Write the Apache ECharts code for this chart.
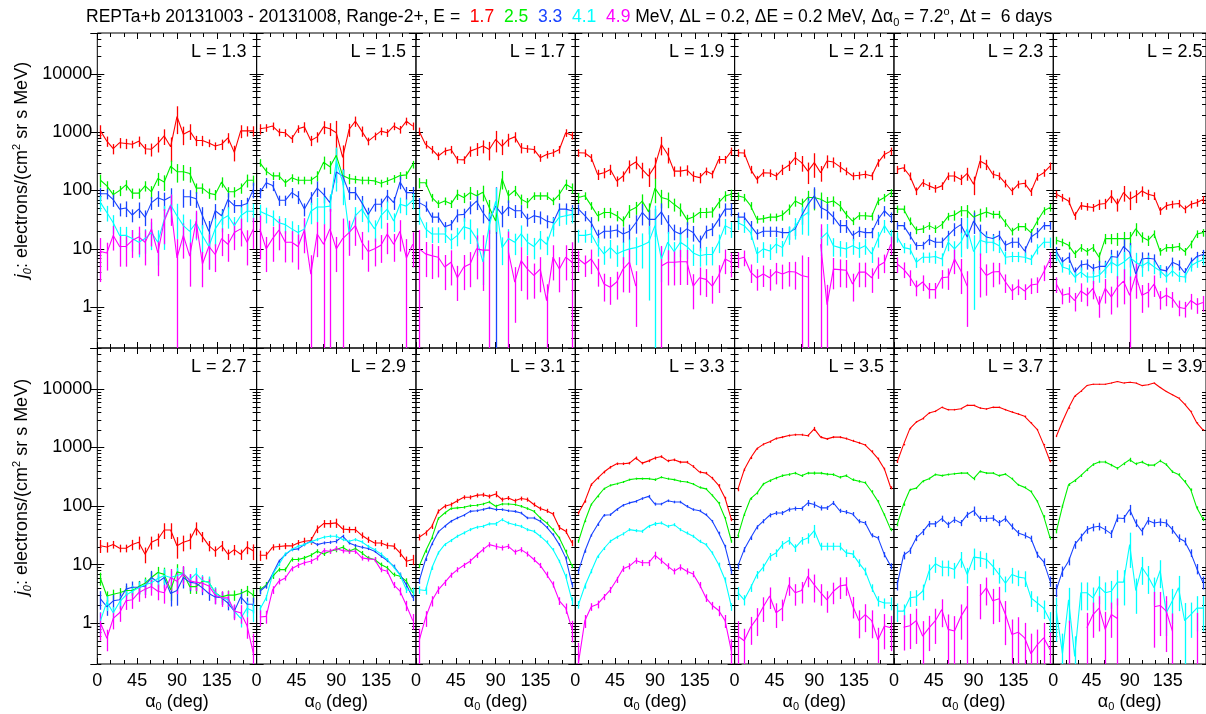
<!DOCTYPE html>
<html><head><meta charset="utf-8">
<script src="https://cdn.jsdelivr.net/npm/echarts@6/dist/echarts.min.js"></script>
<style>html,body{margin:0;padding:0;background:#fff}#c{width:1206px;height:714px}</style>
</head><body><div id="c"></div><script>
const ENERGIES = ['1.7', '2.5', '3.3', '4.1', '4.9'];
const COLORS = ['#ff0000', '#00f000', '#1a44ff', '#00ffff', '#ff00ff'];
const ALPHA = [3.6, 10.8, 18.0, 25.2, 32.4, 39.6, 46.8, 54.0, 61.2, 68.4, 75.6, 82.8, 90.0, 97.2, 104.4, 111.6, 118.8, 126.0, 133.2, 140.4, 147.6, 154.8, 162.0, 169.2, 176.4];
const X_TICK_LABELS = [0, 45, 90, 135];
const Y_TICK_LABELS = [1, 10, 100, 1000, 10000];

// flux per L shell: rows = energies 1.7, 2.5, 3.3, 4.1, 4.9 MeV
const flux_L1_3 = [
 [1050,700,520,660,640,620,700,520,510,640,860,560,1850,920,1050,720,720,650,580,620,800,450,1050,1050,1050],
 [150,120,85,100,125,90,90,120,95,160,140,260,210,210,195,110,110,90,85,140,95,95,110,150,150],
 [88,88,70,48,50,38,48,35,62,75,68,78,null,78,78,72,37,20,45,37,70,55,55,60,105],
 [62,42,28,17,17,15,13,15,19,13,32,57,37,25,20,28,17,11,22,32,37,25,37,44,44],
 [9,8.5,17,11,11,14,16,13,22,8.5,30,55,7,17,7.5,30,5.5,11,8,15,12,19,22,13,22]];
const err_L1_3 = [
 [25,20,20,20,20,15,20,20,25,30,30,45,50,35,30,20,20,15,15,20,20,30,25,20,20],
 [25,20,20,20,20,20,20,20,25,25,30,25,35,30,30,20,20,20,20,20,20,20,20,25,20],
 [25,20,25,25,30,25,30,30,25,30,35,40,0,35,30,30,40,50,30,30,30,25,25,25,30],
 [30,30,35,40,40,40,45,45,50,60,70,50,60,55,60,50,50,60,50,40,40,40,40,35,35],
 [70,50,45,55,55,50,50,60,50,60,60,55,110,60,70,50,60,60,50,50,50,50,50,60,55]];

const flux_L1_5 = [
 [1140,1190,1270,1000,975,770,1140,1230,720,830,1230,1140,975,370,1110,1540,1040,700,855,1040,975,1270,1110,1540,1270],
 [300,215,178,178,136,165,150,150,150,178,305,255,400,180,160,155,150,150,146,133,146,160,180,185,280],
 [92,136,122,68,68,92,78,48,75,110,86,62,207,178,92,92,62,39,58,58,82,62,140,92,92],
 [44,39,35,28,26,22,19,22,44,52,52,54,320,140,19,37,48,32,22,37,48,30,58,54,68],
 [22,10,15,21,13,13,11,21,3.7,18,12,22,10,15,19,25,13,9,10,11.5,18,12,20,7,12]];
const err_L1_5 = [
 [20,15,15,15,15,15,15,20,20,20,25,25,60,60,25,20,20,15,15,15,15,15,15,15,15],
 [15,15,15,15,15,15,15,15,15,20,25,25,30,25,20,15,15,15,15,15,15,15,15,15,15],
 [20,20,20,20,20,20,25,25,25,30,30,30,35,30,25,25,30,30,25,25,25,25,25,25,25],
 [30,30,30,30,30,35,35,40,40,45,50,60,70,60,50,40,40,40,40,40,35,35,30,30,30],
 [70,60,60,55,55,55,60,60,110,60,120,120,60,120,60,55,50,55,50,50,55,50,55,110,60]];

const flux_L1_7 = [
 [1040,616,505,390,473,505,340,335,473,520,577,505,750,577,750,830,540,520,505,365,415,444,505,975,880],
 [136,136,76,59,66,59,86,76,92,81,93,51,30,160,81,100,71,62,81,81,81,66,86,128,110],
 [62,54,35,35,24,26,38,39,52,66,42,30,54,39,52,45,45,32,37,35,30,28,48,48,45],
 [37,22,18,18,18,14,17,24,22,15,6,25,65,10.5,15,13,18,13,11,15,12,25,35,37,39],
 [10,8.2,7.6,7.2,4.9,5.9,3.2,4.9,5.5,10,9.5,9.5,null,null,9,2.7,6.3,4.5,3.5,4.5,1.3,7.2,4.5,7.2,5.9]];
const err_L1_7 = [
 [15,15,15,15,15,15,15,15,20,25,25,35,40,30,25,20,20,15,15,15,15,15,15,15,15],
 [20,15,15,15,15,15,20,20,25,25,30,35,40,35,25,20,20,20,15,15,15,15,20,20,20],
 [20,20,20,20,20,20,25,25,25,30,35,40,110,40,30,25,25,25,25,25,25,25,25,25,25],
 [30,30,30,30,30,30,35,40,45,50,60,60,70,50,45,40,40,40,40,35,35,35,30,30,30],
 [110,60,60,55,60,60,60,60,60,70,80,120,0,0,120,80,70,70,60,60,90,60,60,60,120]];

const flux_L1_9 = [
 [443,440,365,189,202,230,145,177,262,307,230,177,262,616,415,215,215,225,177,166,215,190,340,340,473],
 [76,81,55,37,42,42,37,30,45,51,66,43,110,76,71,58,48,32,35,42,42,43,62,81,86],
 [48,37,28,17,20,20,21,18,20,28,42,32,32,43,28,20,18,22,19,13,20,22,32,48,48],
 [17,17,18,11.3,8.2,10.5,8.2,9.2,10,10.5,11.5,13,25,6.7,13,9,13,11,8.5,7.6,8,8,13,25,22],
 [6.7,5.5,6.7,4.5,2.5,2.2,2.7,4.5,5.9,2.3,null,null,null,5.1,5.9,5.9,6,6,2.3,3.2,3,2.3,3.5,6.7,5.9]];
const err_L1_9 = [
 [15,15,15,20,20,20,20,20,25,25,30,35,40,35,30,20,20,20,20,20,15,15,15,15,15],
 [20,15,15,20,20,20,20,20,25,25,30,40,45,35,30,25,25,20,20,20,20,20,20,20,20],
 [20,20,25,25,25,25,25,30,30,35,40,45,50,40,35,30,30,30,30,30,25,25,25,25,25],
 [25,25,30,35,35,35,40,40,45,50,60,90,120,60,50,45,45,40,40,35,35,35,35,30,30],
 [40,40,45,50,50,50,50,60,70,80,0,0,0,120,60,60,60,60,60,50,50,50,50,45,45]];

const flux_L2_1 = [
 [443,440,230,155,202,200,177,230,270,365,300,215,300,202,320,307,256,215,177,182,190,177,300,415,473],
 [81,76,55,32,33,35,35,38,48,66,58,76,76,71,62,66,55,39,30,37,37,36,66,76,92],
 [35,35,25,18,20,20,20,19,19,22,37,58,81,51,45,35,25,25,17,20,19,19,32,45,35],
 [28,25,19,8.2,10,9.2,12,10.5,18,24,35,42,null,15,19,11.3,10.5,10,11.3,10,11.3,8.2,15,25,17],
 [6.7,7.2,4,3.2,3.7,3.2,4.1,3.7,4.1,4,3.5,3.3,null,12,1.1,4.5,4.4,4.3,2.5,4,4,3.2,5.1,5.9,12]];
const err_L2_1 = [
 [15,15,15,15,15,15,15,20,20,25,30,40,45,30,25,20,20,15,15,15,15,15,15,15,15],
 [15,15,15,15,15,15,15,20,20,20,25,30,40,30,25,20,20,15,15,15,15,15,15,15,15],
 [20,20,20,20,20,20,20,20,25,25,30,35,40,35,30,25,25,25,20,20,20,20,20,20,20],
 [25,25,25,30,30,30,30,30,35,40,50,60,0,50,40,35,30,30,30,30,30,30,30,25,25],
 [30,30,35,40,40,40,40,45,45,50,120,120,0,120,120,55,50,50,50,45,45,45,40,35,35]];

const flux_L2_3 = [
 [230,245,177,98,136,120,108,120,177,177,155,196,128,320,280,190,177,133,98,128,133,95,173,202,262],
 [48,48,30,21,22,25,22,26,36,38,45,45,35,39,43,39,39,28,20,24,24,19,30,45,51],
 [25,25,17,11.3,11.5,14.5,13,13,17,22,26,16,30,20,16,15,17,11.5,13,13,9.2,16,19,25,25],
 [16,10.5,10,5.9,7.2,7.2,7.4,6.7,13,10,13,22,9,14,13,13,11.3,7.2,7.4,7.4,7.2,6.6,10,13,13],
 [5.5,4.5,3.3,2.2,2.7,2.0,2.0,3.2,3.3,6.7,4.2,2.3,null,4.9,3.5,4,4.1,2.7,1.9,2.3,1.9,2.4,2.5,4,6.7]];
const err_L2_3 = [
 [15,15,15,15,15,15,15,15,15,20,20,25,35,25,20,15,15,15,15,15,15,15,15,15,15],
 [15,15,15,15,15,15,15,15,15,20,20,25,30,25,20,15,15,15,15,15,15,15,15,15,15],
 [15,15,15,15,15,20,20,20,20,25,30,35,40,30,25,20,20,20,20,20,20,20,20,15,15],
 [20,20,20,20,20,20,25,25,30,35,45,55,90,45,35,30,25,25,20,20,20,20,20,20,20],
 [30,30,30,30,30,30,30,35,40,45,60,80,0,70,55,45,40,35,30,30,30,30,30,30,30]];

const flux_L2_5 = [
 [86,76,66,37,55,53,51,58,60,81,58,92,71,81,98,86,81,45,55,58,60,48,58,62,70],
 [14,13,11.5,8.2,10.5,9,10.5,7.2,15,15,15,15,15,22,16,14,18,9,10.5,10.5,11,9,12,18,19],
 [9,6,7.2,4,5.3,5.5,4.6,5,5,7.4,7.2,11,8.7,3.7,6.7,6.9,6.7,4.4,4.2,5.9,5.3,3.9,5.9,7.4,8],
 [7.6,4.9,4.5,3.3,4,3.3,3.3,3.5,4.5,5.9,5.1,5.9,7.2,5.9,5.1,5.9,4.9,4.2,3.3,4.2,3.4,3.3,5.1,5.9,6.5],
 [2.5,1.6,1.7,1.3,1.9,1.6,2.1,1.1,2.1,1.5,2.2,2.8,1.6,3.5,1.6,1.8,2.5,1.4,1.6,1.4,1.0,0.95,1.3,1.1,1.2]];
const err_L2_5 = [
 [15,15,15,15,15,15,15,20,20,25,25,30,35,25,20,20,15,15,15,15,15,15,15,15,15],
 [15,15,15,15,15,15,15,20,20,20,25,30,30,25,20,20,15,15,15,15,15,15,15,15,15],
 [20,20,20,20,20,20,20,25,25,30,30,40,45,35,30,25,20,20,20,20,20,20,20,20,20],
 [20,20,20,20,20,20,25,25,30,35,40,50,60,45,35,30,25,25,20,20,20,20,20,20,20],
 [30,30,30,35,35,35,35,40,45,50,55,60,110,60,50,45,40,35,35,30,30,30,30,30,30]];

const flux_L2_7 = [
 [21,20,22,19,19,22,24,15,24,27,39,39,21,24,26,42,30,21,17,21,15,18,15,20,17],
 [5.8,2.9,3.1,3.3,3.6,3.6,4.2,4.8,6,7.3,6.8,3.7,7.5,7,4.2,4.2,5.2,5,3.3,2.8,3,3,3.2,3.6,3],
 [2.6,1.9,2.4,2.5,3.8,4.1,4.1,4.3,6,5,6,3.2,3.6,6,5,4.8,4,3.2,2.8,2.7,2.2,1.6,2.8,2.1,2.1],
 [1.1,2.3,1.5,2.3,3,3.5,4,4.5,4.9,5.8,6.5,6,6.5,7,5.5,7,5.3,5,3.3,2.7,2.5,1.6,1.2,1.8,1.6],
 [1.0,0.55,1.2,1.5,2.4,2.5,3.3,3.8,4.2,3.5,3.3,6,5.2,7,5.3,5.0,4.8,4.3,3,2.7,2.7,1.6,1.5,0.9,0.3]];
const err_L2_7 = [
 [25,20,15,15,15,20,25,30,25,25,30,30,40,30,30,25,20,20,20,20,20,20,20,25,30],
 [25,20,20,20,20,20,25,25,25,25,30,35,35,30,25,25,20,20,20,20,20,20,20,20,25],
 [35,30,30,30,25,25,25,30,30,30,35,40,45,35,30,25,25,25,25,25,25,25,25,30,30],
 [40,30,25,25,25,25,25,25,25,30,30,30,35,30,25,25,25,25,25,25,25,25,30,30,35],
 [50,40,35,30,30,30,30,30,30,30,35,40,40,35,30,30,30,30,30,30,30,30,35,40,120]];

const flux_L2_9 = [
 [14.4,14.4,19.8,20.3,20.8,20.8,23.4,25,25.7,40.5,50,50,51.5,40.5,39.5,39.5,31.6,26.7,23.4,23.4,21.1,20.6,15.8,11.4,12.2],
 [3.7,4.5,6.3,8.2,8.2,12.2,12.2,13,14.4,16.9,15.2,16.9,18,19.8,16.9,18.8,15.8,13,12.2,10,8.8,6.75,6.3,5.2,3.3],
 [3.5,4.3,6.9,11.4,14.8,18,18.5,21.9,25,21.9,23.4,24,25,30.5,23.4,21.1,19.8,18.8,16.9,13.9,11.7,9.4,6.75,4.5,2.7],
 [1.7,2.7,6.75,10,15.2,18,20.5,21.9,24.4,26.7,29.3,30.5,30.5,26.7,25,26.7,24.4,20.5,18,15.2,12.2,9,6.6,3.7,3.5],
 [1.27,1.3,3.7,5.2,5.9,8.5,9.7,10.7,11.4,13,17.3,16.9,18.8,17.3,16.9,16.9,13,12.5,12.2,8.2,7.7,4.5,3.5,2.0,1.1]];
const err_L2_9 = [
 [20,15,12,12,12,12,12,15,15,15,15,15,18,15,12,12,12,12,12,12,12,12,15,20,20],
 [15,12,10,8,8,8,8,8,8,8,8,8,10,8,8,8,8,8,8,8,8,8,10,12,15],
 [12,10,8,6,6,6,6,6,6,6,6,6,8,6,6,6,6,6,6,6,6,6,8,10,12],
 [20,12,8,6,6,6,6,6,6,6,6,6,8,6,6,6,6,6,6,6,6,6,8,12,15],
 [30,25,15,12,10,10,10,10,10,10,10,10,10,10,10,10,10,10,10,10,10,12,15,20,30]];

const flux_L3_1 = [
 [29.3,34.7,45,81,99,106,123,141,141,152,156,146,160,129,137,123,134,129,106,90.5,83,73,43,37,23.4],
 [9.4,16.9,28.5,61,76,90.5,93,95,101,103,108,117,99,108,108,106,99,90.5,81,62.5,51.4,39.5,28.5,16.9,9.4],
 [5.2,12.2,22.5,36.1,45,55,62.5,69.5,81,83,87,93,87,87,83,81,76,62.5,62.5,55,43.4,32.5,21.9,13,4.5],
 [3.7,3.6,8.8,15.8,21.9,25.7,30.5,34.7,39.5,43.4,45,49.5,49.5,58.5,51.4,48,45,39.5,37,30.5,24.4,18,11.4,6.3,2.4],
 [0.5,1.23,2.4,3.7,4.9,6.6,8.2,9.7,11.4,14.4,18,21.9,20.5,19.3,20.5,16.4,18,15.2,12.2,9.7,6.75,4.6,2.4,1.8,0.78]];
const err_L3_1 = [
 [12,10,10,8,8,8,8,8,8,8,8,8,12,8,8,8,8,8,8,8,8,8,10,10,12],
 [8,6,5,5,5,5,5,5,5,5,5,5,6,5,5,5,5,5,5,5,5,5,5,6,8],
 [10,6,5,5,5,5,5,5,5,5,5,5,6,5,5,5,5,5,5,5,5,5,5,6,10],
 [15,15,8,6,6,6,6,6,6,6,6,6,8,6,6,6,6,6,6,6,6,6,6,10,15],
 [60,30,20,15,12,10,10,10,10,10,10,10,12,10,10,10,10,10,10,10,12,12,15,20,40]];

const flux_L3_3 = [
 [76,120,231,300,380,460,527,527,540,660,540,590,660,700,590,615,562,562,475,380,365,300,225,137,58.5],
 [25,55,106,146,197,225,240,257,282,293,293,293,282,310,293,282,264,257,237,208,196,152,113,62.5,25],
 [7.7,16.9,31.6,48,69.5,71,87,103,113,120,134,146,108,108,123,117,117,99,87,83,71,55,34.7,20.5,7.7],
 [2.07,4.3,7.7,13.7,18.8,25,29.3,33.4,39.5,38,37,45,49.5,51.4,45,48,39.5,34.7,30.5,25,21.9,15.8,10,5.5,1.9],
 [0.21,1.1,1.9,2.1,2.8,3.7,5.5,8.5,9.4,11.7,10.7,10.7,14.4,11.7,9.4,7.7,9,7.7,6.9,4.5,2.7,2.0,1.64,1.1,0.33]];
const err_L3_3 = [
 [6,5,5,5,5,5,5,5,5,6,5,5,6,5,5,5,5,5,5,5,5,5,5,5,6],
 [6,4,4,4,4,4,4,4,4,4,4,4,5,4,4,4,4,4,4,4,4,4,4,4,6],
 [10,6,5,5,5,5,5,5,5,5,5,6,6,5,5,5,5,5,5,5,5,5,5,6,10],
 [15,10,8,6,6,6,6,6,6,6,6,6,8,6,6,6,6,6,6,6,6,6,8,10,15],
 [120,25,15,15,12,12,12,12,12,12,12,12,15,12,12,12,12,12,12,12,15,15,20,25,60]];

const flux_L3_5 = [
 [190,415,660,955,1130,1250,1420,1500,1600,1650,1650,1590,2080,1500,1400,1500,1500,1420,1300,1200,1100,860,645,430,205],
 [30.5,71,134,166,237,270,300,330,345,365,330,365,365,365,350,345,310,330,282,264,250,177,120,71,39.5],
 [9.4,18,28.5,43.4,55,69.5,76,76,87,90.5,90.5,113,106,93,93,113,83,79,73,55,51.4,31.6,28.5,14.8,9.4],
 [3.3,2.5,4,6.75,9,13.7,15.8,21.9,25.7,19.3,25.7,28.5,38,20.5,20.5,20.5,20.5,15.8,15.2,10.7,7.7,4,2.4,2.2,2.2],
 [0.6,0.5,0.85,1.2,1.9,2.9,1.5,1.8,4.5,3.3,3.6,6.3,4.5,3.3,2.5,3.5,4.3,4.5,2.0,1.1,1.4,1.1,0.52,0.89,0.83]];
const err_L3_5 = [
 [6,5,4,4,4,4,4,4,4,4,4,4,8,4,4,4,4,4,4,4,4,4,4,5,6],
 [6,5,5,5,5,5,5,5,5,5,5,5,6,5,5,5,5,5,5,5,5,5,5,5,6],
 [12,10,8,8,8,8,8,8,8,8,8,12,12,10,8,8,8,8,8,8,8,8,8,10,12],
 [25,20,15,15,15,15,15,15,15,15,15,20,25,15,15,15,15,15,15,15,15,15,20,20,25],
 [80,60,50,50,45,40,45,40,35,40,40,35,50,40,40,40,40,35,40,50,50,50,60,60,60]];

const flux_L3_7 = [
 [565,1117,2095,2720,3100,3870,4140,4845,4420,4420,4590,5240,5240,4720,4540,4845,4845,4420,4035,3727,3400,2620,2015,1117,580],
 [48,106,190,202,264,293,345,330,345,355,365,365,293,390,365,365,330,350,293,230,208,177,120,66.5,28.5],
 [4.5,14.4,17.3,28.5,36.1,49.5,49.5,61,48,58.5,51.4,71,83,61,61,62.5,51.4,61,45,34.7,31.6,27.8,14.8,11.1,5.2],
 [1.6,1.6,2.7,2.8,3.5,7.7,10.3,9,9,8.2,12.6,6.75,13.4,13,12.2,9.4,6.75,4.8,6.75,6.1,5.9,2.7,2.2,1.8,1.1],
 [null,0.85,0.9,1.1,0.6,0.83,1.1,1.7,0.78,0.73,1.3,1.95,null,2.9,4.0,2.4,2.6,1.4,0.64,0.7,0.56,0.3,0.43,0.56,0.35]];
const err_L3_7 = [
 [4,3,3,3,3,3,3,3,3,3,3,3,3,3,3,3,3,3,3,3,3,3,3,3,4],
 [6,5,4,4,4,4,4,4,4,4,4,4,6,4,4,4,4,4,4,4,4,4,4,5,6],
 [20,15,12,12,12,12,12,12,12,12,12,12,18,12,12,12,12,12,12,12,12,12,12,15,20],
 [35,30,30,30,30,30,30,30,30,30,30,30,40,30,30,30,30,30,30,30,30,30,30,35,40],
 [0,60,60,60,80,60,60,50,80,80,60,120,0,60,50,60,60,70,80,80,80,120,80,80,100]];

const flux_L3_9 = [
 [1550,2780,4720,7480,9060,11400,12000,12000,12000,12600,13400,12600,13000,12600,11400,11800,12600,10600,9060,7950,7000,5500,4150,2620,2000],
 [37,99,232,270,330,415,510,565,565,500,440,525,617,525,565,500,500,590,510,385,345,264,190,93,60],
 [3.7,7.7,11.4,21.9,29.3,39.5,43.4,45,39.5,33.4,62.5,61,87,51.4,37,56.5,51.4,53.4,51.4,39.5,28.5,25,15.8,8.5,5],
 [1.6,0.3,2.5,0.27,3.3,3.3,2.7,4.2,3.3,3.5,5,5,21.9,3.6,9,6.3,4,7.9,1.5,2.4,4,1.1,1.4,1.8,1.8],
 [null,null,0.5,null,null,0.83,1.4,1.8,0.78,1.4,1.2,null,null,null,null,null,1.9,2.0,1.6,0.73,null,null,null,0.68,null]];
const err_L3_9 = [
 [3,3,3,2,2,2,2,2,2,2,2,2,2,2,2,2,2,2,2,2,2,2,2,3,3],
 [8,6,5,5,5,5,5,5,5,5,5,5,8,5,5,5,5,5,5,5,5,5,5,6,8],
 [25,20,15,15,15,15,15,15,15,15,15,15,20,15,15,15,15,15,15,15,15,15,15,20,25],
 [70,120,60,120,50,50,50,50,50,50,60,60,60,60,50,50,50,50,60,60,60,100,60,60,60],
 [0,0,120,0,0,80,60,60,100,60,120,0,0,0,0,0,80,70,80,100,0,0,0,120,0]];

const L_LABELS = ['1.3','1.5','1.7','1.9','2.1','2.3','2.5','2.7','2.9','3.1','3.3','3.5','3.7','3.9'];
const FLUX = [flux_L1_3, flux_L1_5, flux_L1_7, flux_L1_9, flux_L2_1, flux_L2_3, flux_L2_5, flux_L2_7, flux_L2_9, flux_L3_1, flux_L3_3, flux_L3_5, flux_L3_7, flux_L3_9];
const ERR = [err_L1_3, err_L1_5, err_L1_7, err_L1_9, err_L2_1, err_L2_3, err_L2_5, err_L2_7, err_L2_9, err_L3_1, err_L3_3, err_L3_5, err_L3_7, err_L3_9];

// ---------- layout ----------
const FONT = 'Liberation Sans, Arial, Helvetica, sans-serif';
const FS = 18;
const Y_MIN = 0.2, Y_MAX = 50000;
const GX0 = 97.3, GW = 159.33;
const ROW_TOP = [33, 348], ROW_H = [315, 316];
const MAJOR_LEN = 7, MINOR_LEN = 4;

const MINOR_VALUES = [];
for (let k = -1; k <= 4; k++) for (let m = 2; m <= 9; m++) {
  const v = m * Math.pow(10, k);
  if (v >= Y_MIN && v <= Y_MAX) MINOR_VALUES.push(v);
}

const grid = [], xAxis = [], yAxis = [], series = [], graphic = [];

L_LABELS.forEach((L, i) => {
  const row = Math.floor(i / 7), col = i % 7;
  const left = GX0 + col * GW, top = ROW_TOP[row], h = ROW_H[row];
  grid.push({left, top, width: GW, height: h, show: true, borderColor: '#000', borderWidth: 1, backgroundColor: 'rgba(0,0,0,0)'});
  const xBase = {type: 'value', gridIndex: i, min: 0, max: 180, interval: 45,
    axisLine: {show: false}, splitLine: {show: false},
    axisTick: {show: true, inside: true, length: 6, lineStyle: {color: '#000', width: 1}},
    minorTick: {show: true, splitNumber: 3, length: 4, lineStyle: {color: '#000', width: 1}}};
  xAxis.push(Object.assign({}, xBase, {position: 'bottom',
    axisLabel: {show: row === 1, fontSize: FS, fontFamily: FONT, color: '#000', margin: 8, showMaxLabel: false,
      formatter: v => (X_TICK_LABELS.indexOf(v) >= 0 ? String(v) : '')},
    name: row === 1 ? '{a|α}{s|0}{a| (deg)}' : '', nameLocation: 'middle', nameGap: 28,
    nameTextStyle: {rich: {a: {fontSize: FS, fontFamily: FONT, color: '#000', lineHeight: 20},
      s: {fontSize: 11, fontFamily: FONT, color: '#000', verticalAlign: 'bottom', lineHeight: 20, padding: [8, 0, 0, 0]}}}}));
  xAxis.push(Object.assign({}, xBase, {position: 'top', axisLabel: {show: false}}));
  const yBase = {type: 'log', gridIndex: i, min: Y_MIN, max: Y_MAX, logBase: 10,
    axisLine: {show: false}, splitLine: {show: false},
    axisTick: {show: true, inside: true, length: MAJOR_LEN, lineStyle: {color: '#000', width: 1}}};
  yAxis.push(Object.assign({}, yBase, {position: 'left',
    axisLabel: {show: col === 0, fontSize: FS, fontFamily: FONT, color: '#000', margin: 5, showMinLabel: false, showMaxLabel: false,
      formatter: v => { const r = Math.round(v); return Y_TICK_LABELS.indexOf(r) >= 0 ? String(r) : ''; }}}));
  yAxis.push(Object.assign({}, yBase, {position: 'right', axisLabel: {show: false}}));

  // log minor ticks on both sides, placed through the y scale
  series.push({type: 'custom', xAxisIndex: 2 * i, yAxisIndex: 2 * i, silent: true, animation: false, z: 1,
    data: MINOR_VALUES.map(v => [0, v]), encode: {x: 0, y: 1},
    renderItem: (params, api) => {
      const y = Math.round(api.coord([0, api.value(1)])[1]) + 0.5;
      const cs = params.coordSys;
      return {type: 'group', children: [
        {type: 'line', shape: {x1: cs.x, y1: y, x2: cs.x + MINOR_LEN, y2: y}, style: {stroke: '#000', lineWidth: 1}},
        {type: 'line', shape: {x1: cs.x + cs.width - MINOR_LEN, y1: y, x2: cs.x + cs.width, y2: y}, style: {stroke: '#000', lineWidth: 1}}]};
    }});

  const flux = FLUX[i], err = ERR[i];
  ENERGIES.forEach((E, k) => {
    const vals = flux[k], errs = err[k], color = COLORS[k];
    series.push({type: 'line', name: E + ' MeV', xAxisIndex: 2 * i, yAxisIndex: 2 * i,
      data: ALPHA.map((a, j) => vals[j] == null ? [a, '-'] : [a, vals[j]]),
      symbol: 'none', showSymbol: false, connectNulls: false, silent: true, animation: false, z: 3,
      lineStyle: {color, width: 1.1}, itemStyle: {color}});
    const bars = [];
    ALPHA.forEach((a, j) => {
      const v = vals[j];
      if (v == null || !errs[j]) return;
      const s = v * errs[j] / 100;
      bars.push([a, Math.max(v - s, Y_MIN), Math.min(v + s, Y_MAX)]);
    });
    series.push({type: 'custom', xAxisIndex: 2 * i, yAxisIndex: 2 * i, silent: true, animation: false, z: 3,
      data: bars, encode: {x: 0, y: [1, 2]},
      renderItem: (params, api) => {
        const p1 = api.coord([api.value(0), api.value(1)]);
        const p2 = api.coord([api.value(0), api.value(2)]);
        const x = Math.round(p1[0]) + 0.5;
        return {type: 'line', shape: {x1: x, y1: p1[1], x2: x, y2: p2[1]}, style: {stroke: color, lineWidth: 1.3}};
      }});
  });

  graphic.push({type: 'text', x: left + GW - 10, y: top + 10, silent: true,
    style: {text: 'L = ' + L, fontSize: FS, fontFamily: FONT, fill: '#000', align: 'right', verticalAlign: 'top'}});
});

const yName = '{j|j}{js|0}{t|: electrons/(cm}{sp|2}{t| sr s MeV)}';
const yRich = {
  t: {fontSize: FS, fontFamily: FONT, fill: '#000', lineHeight: 22},
  j: {fontSize: FS, fontFamily: FONT, fill: '#000', fontStyle: 'italic', lineHeight: 22},
  js: {fontSize: 11, fontFamily: FONT, fill: '#000', fontStyle: 'italic', verticalAlign: 'bottom'},
  sp: {fontSize: 11, fontFamily: FONT, fill: '#000', verticalAlign: 'top'}
};
[170, 487].forEach(cy => graphic.push({type: 'text', x: 22, y: cy, rotation: Math.PI / 2, silent: true,
  style: {text: yName, rich: yRich, align: 'center', verticalAlign: 'middle'}}));

const titleText = '{t|REPTa+b 20131003 - 20131008, Range-2+, E =  }{c0|1.7}{t|  }{c1|2.5}{t|  }{c2|3.3}{t|  }{c3|4.1}{t|  }{c4|4.9}{t| MeV, ΔL = 0.2, ΔE = 0.2 MeV, Δα}{s|0}{t| = 7.2}{p|o}{t|, Δt =  6 days}';
const TFS = 17.5;
const titleRich = {
  t: {fontSize: TFS, fontFamily: FONT, fill: '#000', lineHeight: 22},
  s: {fontSize: 11, fontFamily: FONT, fill: '#000', verticalAlign: 'bottom'},
  p: {fontSize: 11, fontFamily: FONT, fill: '#000', verticalAlign: 'top'}
};
ENERGIES.forEach((E, k) => { titleRich['c' + k] = {fontSize: TFS, fontFamily: FONT, fill: COLORS[k], lineHeight: 22}; });
graphic.push({type: 'text', x: 86, y: 17, silent: true, style: {text: titleText, rich: titleRich, align: 'left', verticalAlign: 'middle'}});

const chart = echarts.init(document.getElementById('c'), null, {renderer: 'canvas'});
chart.setOption({animation: false, backgroundColor: '#fff', grid, xAxis, yAxis, series, graphic});
</script></body></html>
